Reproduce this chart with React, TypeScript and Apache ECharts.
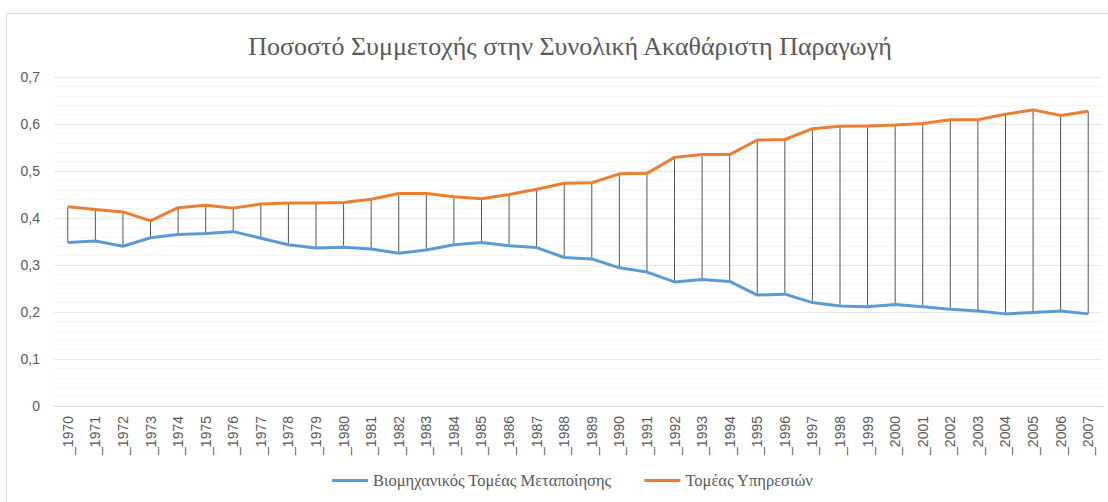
import React, { useEffect, useRef } from "react";
import * as echarts from "echarts";

const years: string[] = [
  "1970","1971","1972","1973","1974","1975","1976","1977","1978","1979",
  "1980","1981","1982","1983","1984","1985","1986","1987","1988","1989",
  "1990","1991","1992","1993","1994","1995","1996","1997","1998","1999",
  "2000","2001","2002","2003","2004","2005","2006","2007",
];
const categories: string[] = years.map((y) => "_" + y);

const industry: number[] = [
  0.348, 0.351, 0.340, 0.358, 0.365, 0.367, 0.371, 0.357, 0.343, 0.336,
  0.338, 0.334, 0.325, 0.332, 0.343, 0.348, 0.341, 0.337, 0.316, 0.313,
  0.294, 0.285, 0.264, 0.269, 0.265, 0.236, 0.238, 0.220, 0.213, 0.211,
  0.216, 0.211, 0.206, 0.202, 0.196, 0.199, 0.202, 0.196,
];
const services: number[] = [
  0.424, 0.418, 0.413, 0.394, 0.422, 0.427, 0.421, 0.430, 0.432, 0.432,
  0.433, 0.440, 0.452, 0.452, 0.445, 0.441, 0.450, 0.461, 0.474, 0.475,
  0.494, 0.495, 0.529, 0.535, 0.535, 0.566, 0.567, 0.590, 0.595, 0.596,
  0.598, 0.601, 0.609, 0.609, 0.621, 0.630, 0.618, 0.627,
];

const titleText = "Ποσοστό Συμμετοχής στην Συνολική Ακαθάριστη Παραγωγή";
const industryName = "Βιομηχανικός Τομέας Μεταποίησης";
const servicesName = "Τομέας Υπηρεσιών";

const serif = "Liberation Serif";
const sans = "Liberation Sans";

export default function App() {
  const ref = useRef<HTMLDivElement>(null);
  useEffect(() => {
    if (!ref.current) return;
    const chart = echarts.init(ref.current, undefined, { renderer: "svg" });
    const dropData = categories.map((_, i) => [i, industry[i], services[i]]);
    chart.setOption({
      animation: false,
      backgroundColor: "#ffffff",
      title: {
        text: titleText,
        left: 565,
        textAlign: "center",
        top: 28,
        textStyle: {
          fontFamily: serif,
          fontSize: 26,
          fontWeight: "normal",
          color: "#595959",
        },
      },
      graphic: [
        {
          type: "rect",
          shape: { x: 6.5, y: 13.5, width: 1110, height: 500 },
          style: { fill: "none", stroke: "#d9d9d9", lineWidth: 1 },
          silent: true,
        },
      ],
      legend: {
        data: [industryName, servicesName],
        bottom: 8,
        left: 327,
        icon: "rect",
        itemWidth: 36,
        itemHeight: 3,
        itemGap: 33,
        textStyle: {
          fontFamily: serif,
          fontSize: 16.5,
          color: "#595959",
        },
      },
      grid: { left: 54, right: 6, top: 77, bottom: 96, containLabel: false },
      xAxis: {
        type: "category",
        data: categories,
        boundaryGap: true,
        axisLine: { show: true, lineStyle: { color: "#d9d9d9", width: 1 } },
        axisTick: { show: false },
        axisLabel: {
          rotate: 90,
          interval: 0,
          margin: 10,
          fontFamily: sans,
          fontSize: 14,
          color: "#595959",
        },
        splitLine: { show: false },
      },
      yAxis: {
        type: "value",
        min: 0,
        max: 0.7,
        interval: 0.1,
        axisLine: { show: false },
        axisTick: { show: false },
        axisLabel: {
          margin: 14,
          fontFamily: sans,
          fontSize: 14,
          color: "#595959",
          formatter: (v: number) => (v === 0 ? "0" : v.toFixed(1).replace(".", ",")),
        },
        splitLine: { show: true, lineStyle: { color: "#e6e6e6", width: 1 } },
        minorTick: { show: false, splitNumber: 5 },
        minorSplitLine: { show: true, lineStyle: { color: "#f4f4f4", width: 1 } },
      },
      series: [
        {
          type: "custom",
          name: "drop",
          z: 1,
          silent: true,
          data: dropData,
          encode: { x: 0, y: [1, 2] },
          renderItem: (params: any, api: any) => {
            const p1 = api.coord([api.value(0), api.value(1)]);
            const p2 = api.coord([api.value(0), api.value(2)]);
            return {
              type: "line",
              shape: { x1: p1[0], y1: p1[1], x2: p2[0], y2: p2[1] },
              style: { stroke: "#2b2b2b", lineWidth: 0.8 },
            };
          },
        },
        {
          type: "line",
          name: industryName,
          data: industry,
          z: 3,
          symbol: "none",
          lineStyle: { color: "#5B9BD5", width: 3 },
          itemStyle: { color: "#5B9BD5" },
        },
        {
          type: "line",
          name: servicesName,
          data: services,
          z: 3,
          symbol: "none",
          lineStyle: { color: "#ED7D31", width: 3 },
          itemStyle: { color: "#ED7D31" },
        },
      ],
    });
    return () => chart.dispose();
  }, []);
  return (
    <div
      ref={ref}
      style={{ position: "absolute", left: 0, top: 0, width: 1108, height: 502 }}
    />
  );
}
